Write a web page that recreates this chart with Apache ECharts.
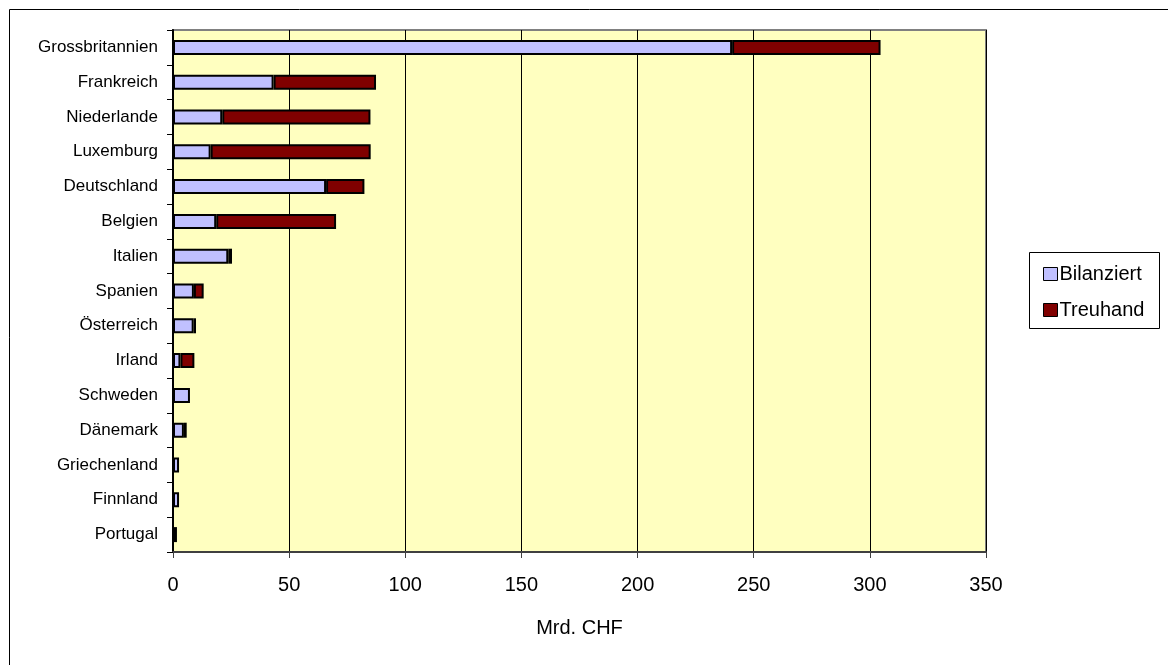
<!DOCTYPE html>
<html>
<head>
<meta charset="utf-8">
<script src="https://cdn.jsdelivr.net/npm/echarts@6/dist/echarts.min.js"></script>
<style>
html,body{margin:0;padding:0;background:#fff;}
#chart{width:1168px;height:665px;}
</style>
</head>
<body>
<div id="chart"></div>
<script>
const categories = ["Grossbritannien","Frankreich","Niederlande","Luxemburg","Deutschland","Belgien","Italien","Spanien","Österreich","Irland","Schweden","Dänemark","Griechenland","Finnland","Portugal"];
const bilanziert = [240.7, 43.3, 21.2, 16.2, 65.9, 18.6, 23.8, 9.0, 8.9, 3.2, 7.3, 4.7, 2.6, 2.6, 1.7];
const treuhand = [63.9, 44.1, 63.8, 68.9, 16.5, 51.6, 1.6, 4.2, 1.0, 6.0, 0, 1.2, 0, 0, 0];
const xTicks = {min: 0, max: 350, interval: 50};
const seriesNames = ["Bilanziert", "Treuhand"];

const chart = echarts.init(document.getElementById('chart'), null, {renderer: 'canvas'});
const font = '"Liberation Sans", Arial, sans-serif';
chart.setOption({
  animation: false,
  backgroundColor: '#fff',
  grid: {left: 173, top: 30, width: 813, height: 522, show: true, backgroundColor: '#FFFFC0', borderColor: '#808080', borderWidth: 2},
  xAxis: {
    type: 'value', min: xTicks.min, max: xTicks.max, interval: xTicks.interval,
    name: 'Mrd. CHF', nameLocation: 'middle', nameGap: 66,
    nameTextStyle: {fontFamily: font, fontSize: 20, color: '#000'},
    axisLine: {show: true, lineStyle: {color: '#404040', width: 2}},
    axisTick: {show: true, length: 6, lineStyle: {color: '#404040', width: 1}},
    axisLabel: {fontFamily: font, fontSize: 20, color: '#000', margin: 23},
    splitLine: {show: true, lineStyle: {color: '#000', width: 1}}
  },
  yAxis: {
    type: 'category', data: categories, inverse: true,
    axisLine: {show: true, lineStyle: {color: '#000', width: 2}},
    axisTick: {show: true, length: 6, lineStyle: {color: '#000', width: 1}},
    axisLabel: {fontFamily: font, fontSize: 17, color: '#000', margin: 15}
  },
  legend: {
    orient: 'vertical', left: 1038, top: 259, itemGap: 16,
    itemWidth: 14, itemHeight: 13, icon: 'rect',
    textStyle: {fontFamily: font, fontSize: 20, color: '#000', padding: [0,0,0,-3]},
    itemStyle: {borderColor: '#000', borderWidth: 1},
    data: seriesNames
  },
  graphic: [
    {type: 'rect', shape: {x: 1029.5, y: 252.5, width: 130, height: 76}, style: {fill: null, stroke: '#000', lineWidth: 1}},
    {type: 'rect', shape: {x: 9.5, y: 9.5, width: 1200, height: 700}, style: {fill: null, stroke: '#000', lineWidth: 1}, silent: true}
  ],
  series: [
    {name: seriesNames[0], type: 'bar', stack: 'total', data: bilanziert, barWidth: 15,
     itemStyle: {color: '#C0C0FF', borderColor: '#000', borderWidth: 2}},
    {name: seriesNames[1], type: 'bar', stack: 'total', data: treuhand.map(v => v === 0 ? '-' : v), barWidth: 15,
     itemStyle: {color: '#800000', borderColor: '#000', borderWidth: 2}}
  ]
});
</script>
</body>
</html>
